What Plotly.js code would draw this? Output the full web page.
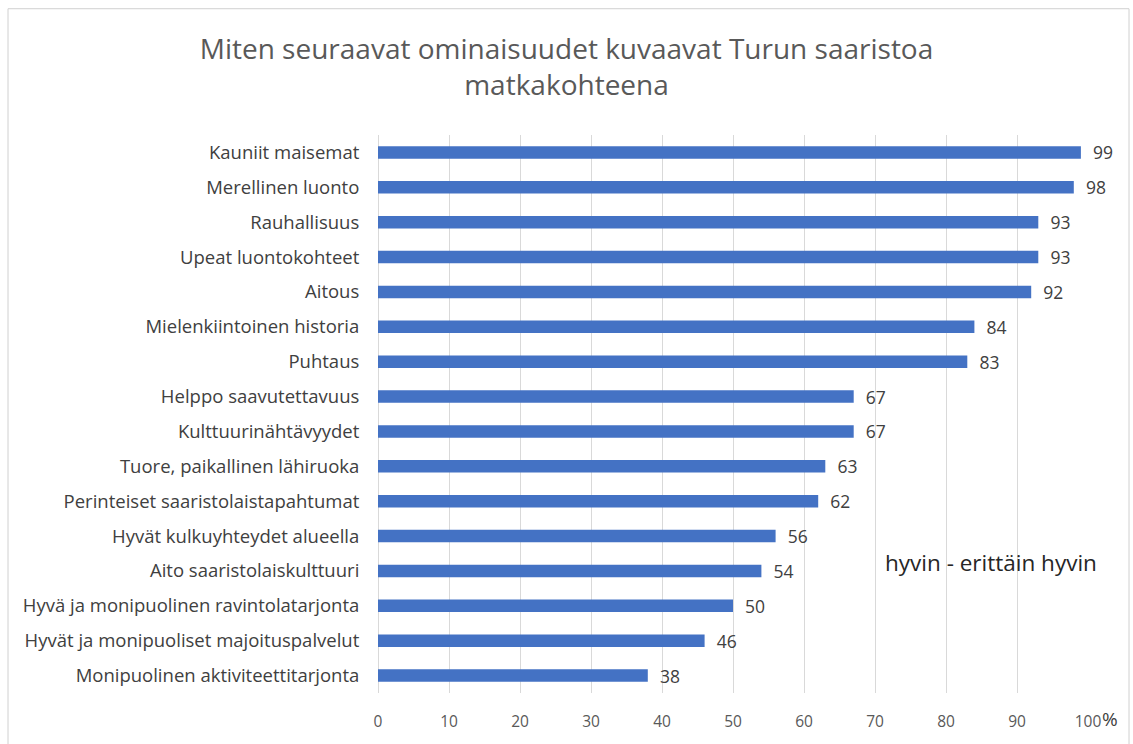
<!DOCTYPE html>
<html>
<head>
<meta charset="utf-8">
<script src="https://cdn.plot.ly/plotly-3.0.1.min.js"></script>
<style>
html,body{margin:0;padding:0;background:#fff;}
#chart{width:1133px;height:744px;}
</style>
</head>
<body>
<div id="chart"></div>
<script>
const categories = [
  "Kauniit maisemat",
  "Merellinen luonto",
  "Rauhallisuus",
  "Upeat luontokohteet",
  "Aitous",
  "Mielenkiintoinen historia",
  "Puhtaus",
  "Helppo saavutettavuus",
  "Kulttuurinähtävyydet",
  "Tuore, paikallinen lähiruoka",
  "Perinteiset saaristolaistapahtumat",
  "Hyvät kulkuyhteydet alueella",
  "Aito saaristolaiskulttuuri",
  "Hyvä ja monipuolinen ravintolatarjonta",
  "Hyvät ja monipuoliset majoituspalvelut",
  "Monipuolinen aktiviteettitarjonta"
];
const values = [99, 98, 93, 93, 92, 84, 83, 67, 67, 63, 62, 56, 54, 50, 46, 38];
const titleText = "Miten seuraavat ominaisuudet kuvaavat Turun saaristoa<br>matkakohteena";
const noteText = "hyvin - erittäin hyvin";
const tickVals = [0, 10, 20, 30, 40, 50, 60, 70, 80, 90, 100];

const FONT = "Open Sans, Noto Sans, sans-serif";

const trace = {
  type: "bar",
  orientation: "h",
  x: values,
  y: categories,
  width: 0.36,
  marker: {color: "#4472C4"},
  text: values.map(v => "\u00a0\u00a0" + v),
  textposition: "outside",
  constraintext: "none",
  cliponaxis: false,
  textfont: {family: FONT, size: 17.5, color: "#404040"},
  hoverinfo: "x+y"
};

const layout = {
  width: 1133,
  height: 744,
  paper_bgcolor: "#fff",
  plot_bgcolor: "#fff",
  margin: {l: 378, r: 45, t: 134.5, b: 50.5},
  showlegend: false,
  font: {family: FONT},
  title: {
    text: titleText,
    font: {family: FONT, size: 28, color: "#595959"},
    x: 0.5, xref: "container", xanchor: "center",
    y: 1, yref: "container", yanchor: "top",
    pad: {t: 59}
  },
  xaxis: {
    range: [0, 100],
    tickvals: tickVals,
    ticktext: tickVals.map(String),
    showgrid: true,
    gridcolor: "#d9d9d9",
    gridwidth: 1,
    zeroline: true,
    zerolinecolor: "#d9d9d9",
    zerolinewidth: 1,
    showline: false,
    ticks: "outside",
    ticklen: 14,
    tickcolor: "rgba(0,0,0,0)",
    tickfont: {family: FONT, size: 15.5, color: "#595959"},
    fixedrange: true
  },
  yaxis: {
    type: "category",
    autorange: "reversed",
    showgrid: false,
    zeroline: false,
    showline: false,
    ticks: "outside",
    ticklen: 14,
    tickcolor: "rgba(0,0,0,0)",
    tickfont: {family: FONT, size: 18.5, color: "#404040"},
    fixedrange: true
  },
  annotations: [
    {
      text: noteText,
      xref: "paper", yref: "paper",
      x: (991 - 378) / 710, y: (693.5 - 563) / 559,
      xanchor: "center", yanchor: "middle",
      showarrow: false,
      font: {family: FONT, size: 22.5, color: "#262626"}
    },
    {
      text: "%",
      xref: "paper", yref: "paper",
      x: (1100 - 378) / 710, y: (693.5 - 720) / 559,
      xanchor: "left", yanchor: "middle",
      showarrow: false,
      font: {family: FONT, size: 19, color: "#404040"}
    }
  ],
  shapes: [
    {
      type: "rect", xref: "paper", yref: "paper",
      x0: (8 - 378) / 710, x1: (1129 - 378) / 710,
      y0: (693.5 - 760) / 559, y1: (693.5 - 8) / 559,
      line: {color: "#d0d0d0", width: 1},
      fillcolor: "rgba(0,0,0,0)",
      layer: "below"
    }
  ]
};

Plotly.newPlot("chart", [trace], layout, {displayModeBar: false, staticPlot: true});
</script>
</body>
</html>
